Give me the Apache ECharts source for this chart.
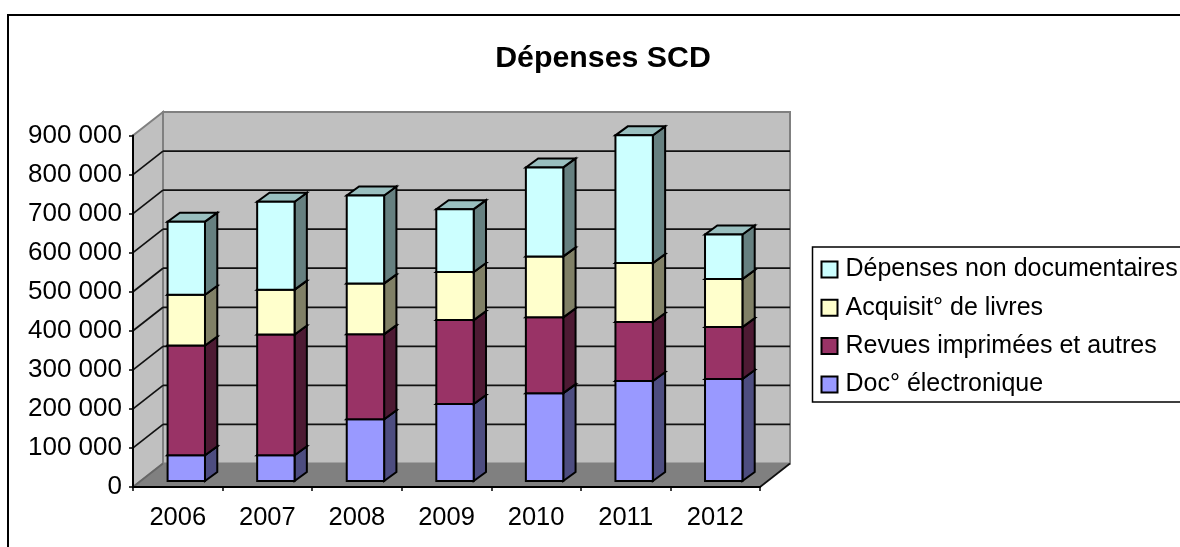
<!DOCTYPE html>
<html><head><meta charset="utf-8">
<style>html,body{margin:0;padding:0;background:#fff;overflow:hidden}#c{width:1180px;height:547px}</style>
<script src="https://cdn.jsdelivr.net/npm/echarts@6/dist/echarts.min.js"></script>
</head><body><div id="c"></div>
<script>
const categories = ['2006','2007','2008','2009','2010','2011','2012'];
const docElectronique = [66000,66000,158000,197000,225000,256000,261000];
const revues = [281000,309000,218000,215000,194000,151000,133000];
const livres = [130000,115000,130000,123000,156000,151000,123000];
const nonDoc = [187000,225000,225000,161000,228000,327000,114000];
const yTicks = [0,100000,200000,300000,400000,500000,600000,700000,800000,900000];
const legendOrder = ['Dépenses non documentaires','Acquisit° de livres','Revues imprimées et autres','Doc° électronique'];

const stacks = [
  {name:'Doc° électronique', values:docElectronique, front:'#9999FF', side:'#4D4D80', top:'#7373BF'},
  {name:'Revues imprimées et autres', values:revues, front:'#993366', side:'#4D1A33', top:'#73264D'},
  {name:'Acquisit° de livres', values:livres, front:'#FFFFCC', side:'#808066', top:'#BFBF99'},
  {name:'Dépenses non documentaires', values:nonDoc, front:'#CCFFFF', side:'#668080', top:'#99BFBF'}
];
const wallDx = 30, wallDy = -23.5, barDx = 12.3, barDy = -9, barInDx = 8.5, barInDy = -6, barWidthRatio = 37.4/89.6;
const poly = (pts, fill, stroke, w) => ({type:'polygon', shape:{points:pts}, style:{fill:fill, stroke:stroke, lineWidth:w, lineJoin:'miter'}});
const line = (a, b, stroke, w) => ({type:'line', shape:{x1:a[0],y1:a[1],x2:b[0],y2:b[1]}, style:{stroke:stroke, lineWidth:w}});

function renderWall(params, api){
  const v = api.value(0);
  const c = params.coordSys;
  const x0 = c.x, x1 = c.x + c.width;
  const y = api.coord([0, v])[1];
  const children = [];
  if (v === 0) {
    const yT = c.y;
    children.push(poly([[x0,y],[x0+wallDx,y+wallDy],[x0+wallDx,yT+wallDy],[x0,yT]], '#C0C0C0', '#808080', 2));
    children.push(poly([[x0+wallDx,y+wallDy],[x1+wallDx,y+wallDy],[x1+wallDx,yT+wallDy],[x0+wallDx,yT+wallDy]], '#C0C0C0', '#808080', 2));
    children.push(poly([[x0,y],[x1,y],[x1+wallDx,y+wallDy],[x0+wallDx,y+wallDy]], '#808080', '#808080', 1));
    children.push(line([x1,y],[x1+wallDx,y+wallDy], '#111111', 1.7));
    children.push(line([x0,y],[x0+wallDx,y+wallDy], '#666666', 1.7));
  } else if (v !== yTicks[yTicks.length-1]) {
    children.push(line([x0,y],[x0+wallDx,y+wallDy], '#111111', 1.7));
    children.push(line([x0+wallDx,y+wallDy],[x1+wallDx,y+wallDy], '#111111', 1.7));
  }
  return {type:'group', children};
}

function barRenderer(k){
  return function(params, api){
    const i = api.value(0), v = api.value(1);
    let base = 0;
    for (let s = 0; s < k; s++) base += stacks[s].values[i];
    const w = api.size([1,0])[0] * barWidthRatio;
    const pB = api.coord([i, base]), pT = api.coord([i, base + v]);
    const cx = pB[0] + barInDx;
    const xl = cx - w/2, xr = cx + w/2;
    const yb = pB[1] + barInDy, yt = pT[1] + barInDy;
    const s = stacks[k];
    return {type:'group', children:[
      poly([[xr,yb],[xr+barDx,yb+barDy],[xr+barDx,yt+barDy],[xr,yt]], s.side, '#000000', 2),
      poly([[xl,yt],[xr,yt],[xr+barDx,yt+barDy],[xl+barDx,yt+barDy]], s.top, '#000000', 2),
      poly([[xl,yb],[xr,yb],[xr,yt],[xl,yt]], s.front, '#000000', 2)
    ]};
  };
}

const fmt = v => String(v).replace(/\B(?=(\d{3})+$)/g,' ');
const font = 'Liberation Sans';
const series = [{
  type:'custom', name:'walls', z:-1, silent:true, clip:false,
  data: yTicks.map(v => [v]), encode:{y:0}, renderItem: renderWall
}].concat(stacks.map((s,k) => ({
  type:'custom', name:s.name, clip:false, silent:true, z:2+k,
  itemStyle:{color:s.front, borderColor:'#000', borderWidth:1.5},
  data: s.values.map((v,i) => [i,v]), encode:{x:0,y:1}, renderItem: barRenderer(k)
})));

const chart = echarts.init(document.getElementById('c'), null, {renderer:'canvas'});
chart.setOption({
  animation:false, backgroundColor:'#fff',
  title:{text:'Dépenses SCD', left:598, textAlign:'center', top:39,
    textStyle:{fontFamily:font, fontSize:30.3, fontWeight:'bold', color:'#000'}},
  grid:{left:133, top:135.5, width:627, height:351.5},
  xAxis:{type:'category', data:categories, boundaryGap:true,
    axisLine:{lineStyle:{color:'#000', width:2}},
    axisTick:{show:true, alignWithLabel:false, length:4, lineStyle:{color:'#000', width:1.5}},
    axisLabel:{fontFamily:font, fontSize:25.5, color:'#000', margin:18}},
  yAxis:{type:'value', min:0, max:900000, interval:100000,
    splitLine:{show:false},
    axisLine:{show:true, lineStyle:{color:'#000', width:2}},
    axisTick:{show:true, length:4, lineStyle:{color:'#000', width:1.5}},
    axisLabel:{fontFamily:font, fontSize:26, color:'#000', margin:11, padding:[3,0,0,0], formatter:fmt}},
  legend:{orient:'vertical', left:812.5, top:247, data:legendOrder, icon:'rect',
    itemWidth:16, itemHeight:16, itemGap:13.3, padding:[10,40,5,8],
    borderColor:'#000', borderWidth:1.5, backgroundColor:'#fff', selectedMode:false,
    textStyle:{fontFamily:font, fontSize:25, color:'#000', padding:[0,0,0,3]}},
  graphic:[{type:'rect', silent:true, z:-10, shape:{x:8,y:15,width:1300,height:700},
    style:{fill:'#fff', stroke:'#000', lineWidth:2}}],
  series
});
</script></body></html>
